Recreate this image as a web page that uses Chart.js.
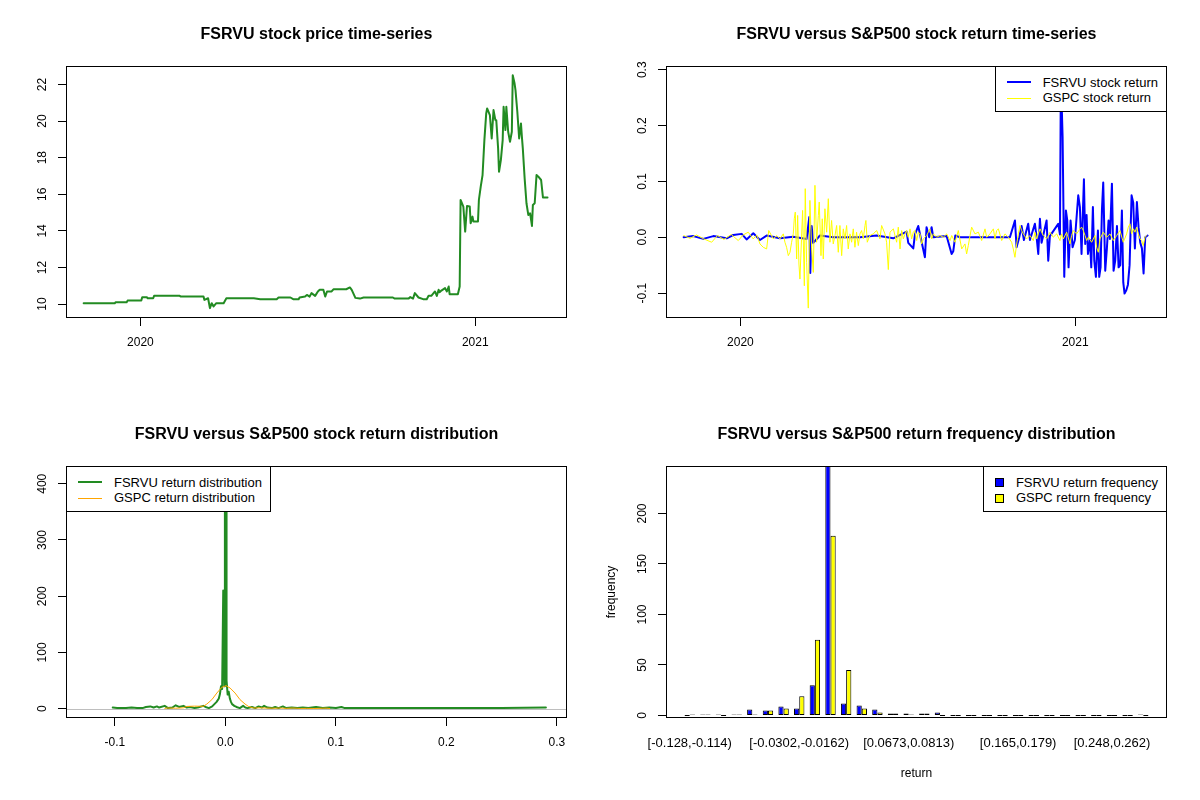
<!DOCTYPE html>
<html lang="en">
<head>
<meta charset="UTF-8">
<title>FSRVU versus S&amp;P500</title>
<script src="https://cdn.jsdelivr.net/npm/chart.js"></script>
<style>
  body { margin: 0; background: #fff; font-family: "Liberation Sans", Arial, sans-serif; }
  #page { position: relative; width: 1200px; height: 800px; overflow: hidden; }
  canvas { position: absolute; }
  .legend { position: absolute; box-sizing: border-box; height: 46px; border: 1px solid #000; background: #fff;
            padding: 7.5px 8px 0 47px; font-size: 13px; color: #000; }
  .legend div { position: relative; height: 15.8px; line-height: 15.8px; white-space: nowrap; }
  .legend .ln { position: absolute; left: -36px; width: 24px; top: 50%; }
  .legend.fill { padding-left: 32px; }
  .legend .sq { position: absolute; left: -21px; top: 3.4px; width: 7px; height: 7px; border: 1px solid #000; }
</style>
</head>
<body>
<div id="page">
  <canvas id="price" width="600" height="400" style="left:0;top:0"></canvas>
  <canvas id="returns" width="600" height="400" style="left:600px;top:0"></canvas>
  <canvas id="density" width="600" height="400" style="left:0;top:400px"></canvas>
  <canvas id="freq" width="600" height="400" style="left:600px;top:400px"></canvas>

  <div class="legend" style="right:33px;top:66px">
    <div><span class="ln" style="background:#0000ff;height:2px;margin-top:-1px"></span>FSRVU stock return</div>
    <div><span class="ln" style="background:#ffff00;height:1px;margin-top:-0.5px"></span>GSPC stock return</div>
  </div>
  <div class="legend" style="left:66px;top:466px">
    <div><span class="ln" style="background:#228b22;height:2px;margin-top:-1px"></span>FSRVU return distribution</div>
    <div><span class="ln" style="background:#ffa500;height:1px;margin-top:-0.5px"></span>GSPC return distribution</div>
  </div>
  <div class="legend fill" style="right:33px;top:466px">
    <div><span class="sq" style="background:#0000ff"></span>FSRVU return frequency</div>
    <div><span class="sq" style="background:#ffff00"></span>GSPC return frequency</div>
  </div>
</div>

<script>
// days counted from 2020-01-01
const timeTickDays = [0, 366];
const timeTickLabels = ['2020', '2021'];

const priceDays = [
  -62, -28, -27, -15, -14, 1, 2, 7, 8, 14,
  15, 43, 44, 69, 70, 74, 76, 78, 80, 83,
  91, 94, 124, 131, 149, 151, 164, 167, 173, 174,
  180, 182, 185, 187, 191, 194, 196, 200, 202, 204,
  209, 211, 225, 229, 231, 235, 240, 244, 276, 278,
  293, 295, 298, 300, 304, 309, 313, 315, 318, 322,
  324, 326, 327, 329, 333, 335, 337, 338, 347, 349,
  350, 353, 355, 357, 360, 361, 363, 364, 369, 370,
  372, 374, 376, 378, 379, 382, 384, 386, 388, 389,
  391, 392, 394, 396, 397, 399, 400, 402, 404, 406,
  407, 409, 410, 412, 414, 416, 417, 418, 420, 422,
  424, 426, 428, 429, 431, 433, 435, 438, 440, 445
];
const priceValues = [
  10.05, 10.05, 10.10, 10.10, 10.19, 10.19, 10.38, 10.38, 10.32, 10.32,
  10.45, 10.45, 10.41, 10.41, 10.23, 10.32, 9.78, 10.05, 9.87, 10.05,
  10.05, 10.32, 10.32, 10.27, 10.27, 10.36, 10.36, 10.27, 10.27, 10.36,
  10.41, 10.50, 10.41, 10.60, 10.45, 10.69, 10.78, 10.78, 10.41, 10.69,
  10.69, 10.81, 10.81, 10.91, 10.78, 10.34, 10.30, 10.36, 10.36, 10.30,
  10.30, 10.38, 10.30, 10.60, 10.36, 10.27, 10.27, 10.45, 10.45, 10.69,
  10.45, 10.78, 10.65, 10.74, 10.87, 10.69, 10.96, 10.54, 10.54, 10.96,
  15.69, 15.33, 13.96, 15.36, 15.33, 14.42, 14.78, 14.51, 14.51, 15.69,
  16.42, 17.05, 18.96, 20.42, 20.69, 20.33, 19.05, 20.60, 20.05, 20.05,
  18.51, 17.23, 17.87, 18.96, 20.78, 19.51, 20.78, 19.42, 18.87, 19.42,
  22.51, 22.05, 21.69, 20.51, 19.05, 19.87, 19.14, 18.51, 16.87, 15.51,
  14.87, 14.96, 14.27, 15.42, 15.51, 17.05, 16.96, 16.78, 15.83, 15.83
];
const priceTicks = [10, 12, 14, 16, 18, 20, 22];

const fsrvuReturnDays = [
  -62, -51.5, -40.5, -29.6, -15, -7.8, 1.4, 6.8, 14.1, 21.4,
  28.7, 43.2, 57.8, 72.4, 75.3, 76.4, 77.9, 79.7, 87, 101.5,
  130.7, 148.9, 167.1, 181.7, 183.5, 189, 190.8, 194.4, 197, 201.7,
  203.5, 206.4, 209, 210.8, 225.4, 230.9, 232.7, 234.9, 240, 294.6,
  300.1, 301.9, 304.8, 307.4, 309.9, 314.6, 316.5, 321.9, 323.8, 325.6,
  327.4, 329.2, 334.7, 336.5, 338.3, 347.4, 349.3, 350.3, 352.2, 354,
  355.8, 357.3, 358.7, 360.9, 363.1, 365.6, 369.3, 371.1, 372.9, 375.5,
  376.9, 378.4, 379.9, 382.1, 383.5, 385.3, 386.8, 388.6, 390.8, 392.2,
  393.7, 395.2, 396.6, 398.8, 400.6, 402.4, 403.9, 406.1, 407.9, 409.7,
  411.6, 413.4, 415.2, 417, 418.5, 419.9, 421.8, 423.6, 425.4, 427.6,
  429.4, 431.2, 433.4, 435.2, 437.1, 438.9, 440.7, 442.5, 445.1
];
const fsrvuReturns = [
  0, 0.002, -0.003, 0.002, -0.002, 0.004, 0.006, -0.004, 0.007, -0.005,
  0.003, -0.002, 0.001, -0.003, 0.036, -0.064, 0.02, -0.01, 0.003, 0,
  0, 0.003, -0.002, 0.01, -0.01, -0.02, 0.005, 0.02, 0, -0.036,
  0.018, 0, 0.018, 0, 0.002, -0.03, -0.025, 0.003, 0, 0,
  0.03, -0.018, 0, 0.02, -0.005, 0.024, -0.005, 0.024, 0, -0.03,
  0.033, -0.01, 0.03, -0.042, 0.002, 0.024, 0.005, 0.29, 0.179, -0.071,
  0.048, 0.03, -0.054, 0.03, -0.018, -0.005, 0.075, 0.054, -0.03, 0.104,
  -0.012, 0.04, -0.03, -0.005, -0.054, 0.054, -0.042, -0.071, 0.012, -0.071,
  -0.054, 0.05, 0.098, -0.06, -0.02, 0.03, -0.003, 0.096, -0.06, -0.042,
  0.02, -0.054, -0.05, 0.048, -0.081, -0.101, -0.095, -0.085, -0.05, 0.075,
  0.062, -0.02, 0.063, 0.018, -0.01, -0.02, -0.065, 0, 0.003
];

const gspcReturnDays = [
  -62, -55, -48, -40, -31.4, -25, -18, -10, -2.3, 3,
  8.6, 14, 18, 21.4, 25, 28.7, 31, 36, 39.6, 43.3,
  46.9, 48.7, 50.5, 52.4, 54.2, 56, 57.8, 58.9, 60, 61.5,
  62.6, 64, 65.1, 68, 69.9, 70.9, 72.4, 74.2, 76, 77.9,
  79.7, 81.5, 83.3, 85.2, 86.2, 88.1, 89.5, 90.6, 92.4, 94.3,
  96.1, 97.9, 99.7, 101.5, 103.4, 105.2, 107, 108.8, 110.7, 112.5,
  114.3, 116.1, 117.9, 119.8, 121.6, 123.4, 125.2, 127, 128.9, 130.7,
  132.5, 134.3, 136.2, 137.2, 138.7, 141.6, 145.3, 148.9, 152.5, 154.4,
  158, 159.8, 161.7, 163.5, 167.2, 170.8, 172.6, 174.5, 176.3, 178.1,
  180, 181.7, 183.5, 185.4, 187.2, 189, 190.8, 192.7, 194.5, 196.3,
  198.1, 200, 203.6, 207.2, 209, 210.9, 214.5, 218.2, 221.8, 225.5,
  229.1, 231, 234.6, 238.2, 241.9, 245.5, 247.3, 249.1, 251, 252.8,
  256.4, 260.1, 263.7, 267.4, 269.2, 272.8, 276.5, 278.3, 280.1, 282,
  285.6, 289.2, 292.9, 296.5, 298.3, 300.1, 302, 303.8, 305.6, 307.4,
  309.2, 312.9, 316.5, 320.2, 322, 323.8, 325.6, 327.5, 331.1, 334.8,
  338.4, 342, 345.7, 349.3, 351, 353, 356.6, 360.3, 362, 363.9,
  367.5, 371.2, 373, 374.8, 376.7, 378.5, 380.3, 383.9, 387.6, 389.4,
  391.2, 393, 396.7, 400.3, 404, 407.6, 411.3, 414.9, 418.5, 422.2,
  424, 425.8, 427.6, 429.5, 431.3, 433.1, 435, 436.8, 438.6, 440.4,
  442.2, 444
];
const gspcReturns = [
  0.003, -0.002, 0.004, -0.003, -0.009, 0.003, -0.004, 0.005, -0.006, 0.004,
  0.009, -0.003, 0.004, -0.012, -0.018, -0.021, 0.012, -0.003, 0.003, -0.003,
  0.006, -0.009, -0.018, -0.033, -0.027, -0.009, 0.006, 0.033, 0.045, -0.039,
  0.039, -0.048, -0.075, 0.048, -0.087, 0.087, -0.045, -0.127, 0.066, -0.021,
  -0.063, 0.093, -0.009, 0.039, 0.063, -0.033, 0.033, -0.039, 0.051, 0.009,
  0.069, -0.009, 0.030, -0.012, 0.003, 0.021, -0.027, 0.021, -0.033, 0.015,
  -0.003, 0.021, -0.021, 0.006, -0.009, 0.015, -0.018, 0.009, -0.015, 0.006,
  0.012, -0.003, 0.021, 0.030, -0.009, 0.003, 0.006, 0.012, -0.003, 0.021,
  0.006, -0.009, -0.058, 0.009, 0.015, -0.009, 0.018, -0.021, 0.012, -0.003,
  0.006, 0.012, 0, 0.015, -0.003, 0.009, 0.012, -0.006, 0.009, 0.006,
  -0.012, -0.003, 0.003, 0.015, -0.003, 0.006, 0, 0.003, 0, 0.006,
  -0.006, 0.003, -0.009, 0.012, -0.021, -0.012, -0.030, -0.015, 0.003, 0.018,
  0.006, 0.009, -0.006, 0.015, 0, 0.006, 0.015, -0.003, 0.012, 0.015,
  -0.006, 0.006, 0, -0.009, -0.021, -0.036, -0.012, 0.006, 0.021, 0.012,
  0.006, -0.003, 0.003, -0.006, 0.009, -0.003, 0.006, 0.015, 0.003, -0.003,
  0.009, 0, 0.006, -0.006, 0.006, -0.003, 0.009, -0.012, 0.003, 0.012,
  0.006, 0.015, 0.018, 0.012, 0.003, -0.006, 0, -0.009, 0.003, -0.018,
  -0.027, -0.003, 0.009, 0, 0.006, -0.006, 0.003, 0.012, -0.009, 0.006,
  0.018, 0.024, 0.006, 0.015, 0.009, 0.018, 0.006, -0.003, -0.006, -0.015,
  0, 0.003
];
const returnTicks = [-0.1, 0, 0.1, 0.2, 0.3];

const fsrvuDensityX = [
  -0.102, -0.098, -0.09, -0.085, -0.08, -0.075, -0.072, -0.068, -0.065, -0.062,
  -0.06, -0.055, -0.052, -0.048, -0.045, -0.042, -0.038, -0.035, -0.032, -0.028,
  -0.025, -0.02, -0.018, -0.015, -0.012, -0.01, -0.008, -0.006, -0.005, -0.004,
  -0.003, -0.002, -0.0015, -0.001, -0.0005, 0.0005, 0.001, 0.002, 0.003, 0.004,
  0.005, 0.006, 0.008, 0.01, 0.013, 0.016, 0.018, 0.02, 0.024, 0.027,
  0.03, 0.033, 0.035, 0.038, 0.042, 0.045, 0.048, 0.052, 0.055, 0.06,
  0.065, 0.07, 0.075, 0.082, 0.088, 0.094, 0.1, 0.105, 0.108, 0.15,
  0.2, 0.25, 0.29
];
const fsrvuDensity = [
  2, 1, 1, 2, 1, 1, 3, 4, 2, 4,
  2, 5, 1, 2, 6, 3, 5, 2, 3, 1,
  2, 5, 3, 1, 4, 8, 12, 18, 26, 40,
  35, 210, 210, 40, 415, 415, 50, 25, 30, 18,
  12, 8, 5, 3, 1, 5, 2, 1, 3, 1,
  4, 2, 5, 2, 1, 3, 1, 4, 1, 2,
  1, 2, 1, 3, 1, 2, 1, 3, 1, 1,
  1, 1, 2
];
const gspcDensityX = [
  -0.055, -0.053, -0.045, -0.038, -0.035, -0.028, -0.02, -0.0168, -0.0123, -0.0078,
  -0.0033, 0.0006, 0.0042, 0.0087, 0.0132, 0.0177, 0.0207, 0.0252, 0.032, 0.037,
  0.045, 0.049, 0.055, 0.061, 0.068, 0.0733, 0.08, 0.0913, 0.0943
];
const gspcDensity = [
  0.3, 1.2, 0.8, 1.5, 4.0, 4.5, 4.2, 8.3, 16, 27.8,
  37.9, 40.9, 36.7, 27.8, 16, 8.3, 4.1, 1.2, 1.5, 1.0,
  0.8, 1.2, 0.5, 1.2, 0.4, 0.6, 0.3, 1.0, 0.3
];
const densityXTicks = [-0.1, 0, 0.1, 0.2, 0.3];
const densityYTicks = [0, 100, 200, 300, 400];

const binLabels = [
  '[-0.128,-0.114)', '[-0.114,-0.1)', '[-0.1,-0.0862)', '[-0.0862,-0.0723)', '[-0.0723,-0.0583)',
  '[-0.0583,-0.0442)', '[-0.0442,-0.0302)', '[-0.0302,-0.0162)', '[-0.0162,-0.00225)', '[-0.00225,0.0117)',
  '[0.0117,0.0257)', '[0.0257,0.0396)', '[0.0396,0.0536)', '[0.0536,0.0673)', '[0.0673,0.0813)',
  '[0.0813,0.0952)', '[0.0952,0.109)', '[0.109,0.123)', '[0.123,0.137)', '[0.137,0.151)',
  '[0.151,0.165)', '[0.165,0.179)', '[0.179,0.193)', '[0.193,0.207)', '[0.207,0.221)',
  '[0.221,0.234)', '[0.234,0.248)', '[0.248,0.262)', '[0.262,0.276)', '[0.276,0.29]'
];
const freqFSRVU = [0, 1, 1, 1, 6, 5, 9, 7, 30, 247, 12, 10, 6, 2, 2, 2, 3, 0, 0, 0, 0, 0, 0, 0, 0, 0, 0, 0, 0, 1];
const freqGSPC = [1, 1, 0, 1, 1, 5, 7, 19, 75, 178, 45, 7, 3, 2, 1, 2, 0, 0, 0, 0, 0, 0, 0, 0, 0, 0, 0, 0, 0, 0];
const binTickIndex = [0, 7, 14, 21, 27];
const freqTicks = [0, 50, 100, 150, 200];

Chart.defaults.font.family = "'Liberation Sans', Arial, sans-serif";
Chart.defaults.font.size = 12;
Chart.defaults.color = '#000';

const pts = (xs, ys) => xs.map((x, i) => ({x: x, y: ys[i]}));

// R draws a full box round the plot region
const rBox = {
  id: 'rBox',
  afterDraw(chart) {
    const a = chart.chartArea, ctx = chart.ctx;
    ctx.save();
    ctx.strokeStyle = '#000';
    ctx.lineWidth = 1;
    ctx.strokeRect(a.left + 0.5, a.top + 0.5, a.right - a.left - 1, a.bottom - a.top - 1);
    ctx.restore();
  }
};

function fixedTicks(values) {
  return s => { s.ticks = values.map(v => ({value: v})); };
}

function yAxis(min, max, ticks, pad, fmt, title) {
  return {
    type: 'linear', position: 'left', min: min, max: max,
    afterBuildTicks: fixedTicks(ticks),
    afterFit: s => { s.width = 66; },
    border: {display: false},
    grid: {drawOnChartArea: false, tickLength: 8, color: '#000'},
    ticks: {minRotation: 90, maxRotation: 90, crossAlign: 'center', padding: pad, autoSkip: false, callback: fmt},
    title: title ? {display: true, text: title, padding: {top: 4.8, bottom: 0}} : {display: false}
  };
}

function xAxis(min, max, ticks, fmt, noTicks, title) {
  return {
    type: 'linear', position: 'bottom', min: min, max: max, offset: false,
    afterBuildTicks: fixedTicks(ticks),
    afterFit: s => { s.height = 82; },
    border: {display: false},
    grid: noTicks ? {display: false, drawTicks: false} : {drawOnChartArea: false, tickLength: 8, color: '#000'},
    ticks: {padding: noTicks ? 17.4 : 9.5, maxRotation: 0, autoSkip: false, callback: fmt,
            font: {size: noTicks ? 13 : 12}},
    title: title ? {display: true, text: title, padding: {top: 0, bottom: 18.8}} : {display: false}
  };
}

function makeChart(id, type, title, datasets, scales, extra) {
  return new Chart(document.getElementById(id), {
    type: type,
    data: {datasets: datasets},
    options: {
      responsive: false, animation: false, devicePixelRatio: 1,
      layout: {padding: {left: 0, right: 33, top: 0, bottom: 0}},
      plugins: {
        legend: {display: false},
        tooltip: {enabled: false},
        // not full width, so the title centres over the plot box as in R
        title: {display: true, fullSize: false, text: title, color: '#000',
                font: {size: 16, weight: 'bold'}, padding: {top: 25.4, bottom: 21.4}}
      },
      scales: scales
    },
    plugins: [rBox].concat(extra || [])
  });
}

function lineSet(data, color, width) {
  return {data: data, borderColor: color, borderWidth: width, pointRadius: 0, tension: 0,
          fill: false, borderJoinStyle: 'round', borderCapStyle: 'round'};
}

const timeX = () => xAxis(-81.3, 466.3, timeTickDays, (v, i) => timeTickLabels[i]);

makeChart('price', 'line', 'FSRVU stock price time-series',
  [lineSet(pts(priceDays, priceValues), '#228b22', 2)],
  {x: timeX(), y: yAxis(9.24, 23.01, priceTicks, 8.6, v => String(v))});

// yellow listed first so it is drawn over the blue
makeChart('returns', 'line', 'FSRVU versus S&P500 stock return time-series',
  [lineSet(pts(gspcReturnDays, gspcReturns), '#ffff00', 1),
   lineSet(pts(fsrvuReturnDays, fsrvuReturns), '#0000ff', 2)],
  {x: timeX(), y: yAxis(-0.1447, 0.3067, returnTicks, 5, v => v.toFixed(1))});

// grey zero line, drawn after the green curve and before the orange one
const zeroLine = {
  id: 'zeroLine',
  beforeDatasetDraw(chart, args) {
    if (args.index !== 0) return;
    const a = chart.chartArea, ctx = chart.ctx;
    const y = Math.round(chart.scales.y.getPixelForValue(0)) + 0.5;
    ctx.save();
    ctx.strokeStyle = '#bebebe';
    ctx.lineWidth = 1;
    ctx.beginPath();
    ctx.moveTo(a.left, y);
    ctx.lineTo(a.right, y);
    ctx.stroke();
    ctx.restore();
  }
};

makeChart('density', 'line', 'FSRVU versus S&P500 stock return distribution',
  [lineSet(pts(gspcDensityX, gspcDensity), '#ffa500', 1),
   lineSet(pts(fsrvuDensityX, fsrvuDensity), '#228b22', 2)],
  {x: xAxis(-0.1443, 0.3091, densityXTicks, v => v.toFixed(1)),
   y: yAxis(-16.6, 431.6, densityYTicks, 5.3, v => String(v))},
  [zeroLine]);

function barSet(values, color) {
  return {data: values.map((v, i) => ({x: i, y: v})), backgroundColor: color,
          borderColor: '#000', borderWidth: 1, borderSkipped: false, minBarLength: 1,
          categoryPercentage: 2 / 3, barPercentage: 1};
}

makeChart('freq', 'bar', 'FSRVU versus S&P500 return frequency distribution',
  [barSet(freqFSRVU, '#0000ff'), barSet(freqGSPC, '#ffff00')],
  {x: xAxis(-1.52, 30.52, binTickIndex, v => binLabels[v], true, 'return'),
   y: yAxis(-2.47, 247, freqTicks, 5.3, v => String(v), 'frequency')});
</script>
</body>
</html>
